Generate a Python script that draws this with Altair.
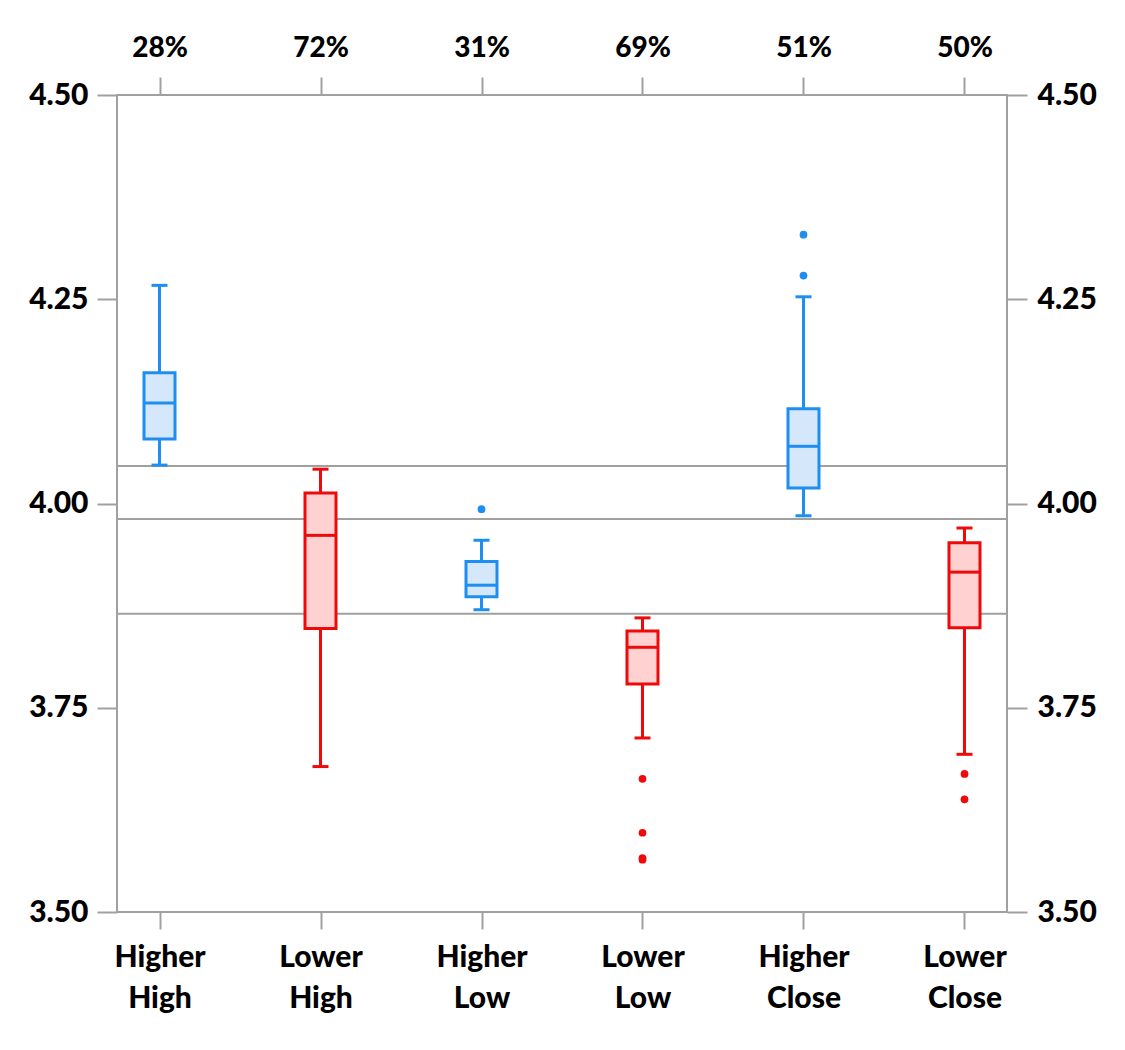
import altair as alt
import pandas as pd

categories = ["Higher High", "Lower High", "Higher Low", "Lower Low", "Higher Close", "Lower Close"]
pcts = ["28%", "72%", "31%", "69%", "51%", "50%"]
whisk_lo = [4.047, 3.678, 3.870, 3.713, 3.985, 3.693]
q1 = [4.079, 3.847, 3.886, 3.779, 4.019, 3.848]
median = [4.123, 3.961, 3.900, 3.824, 4.070, 3.916]
q3 = [4.160, 4.013, 3.929, 3.844, 4.116, 3.952]
whisk_hi = [4.267, 4.042, 3.955, 3.860, 4.253, 3.970]

outlier_cats = ["Higher Low", "Lower Low", "Lower Low", "Lower Low", "Lower Low",
                "Higher Close", "Higher Close", "Lower Close", "Lower Close"]
outlier_vals = [3.993, 3.663, 3.597, 3.566, 3.564, 4.329, 4.279, 3.669, 3.638]

ref_lines = [4.046, 3.981, 3.865]

sides = ["Higher", "Lower"]
dark = ["#1F8EF1", "#EE0A0A"]
light = ["#D4E7FB", "#FFD1D1"]
gray = "#A0A0A0"
FONT = "Lato"
WEIGHT = 900

box = pd.DataFrame({
    "cat": categories, "side": [c.split()[0] for c in categories],
    "lo": whisk_lo, "q1": q1, "med": median, "q3": q3, "hi": whisk_hi,
})
outl = pd.DataFrame({"cat": outlier_cats, "side": [c.split()[0] for c in outlier_cats],
                     "value": outlier_vals})
refs = pd.DataFrame({"y": ref_lines})

xscale = alt.Scale(type="point", domain=categories, padding=0.264)
yscale = alt.Scale(domain=[3.5, 4.5], nice=False, zero=False)
cscale = alt.Scale(domain=sides, range=dark)
fscale = alt.Scale(domain=sides, range=light)
sscale = alt.Scale(domain=sides, range=dark)

pct_expr = ""
for c, p in zip(categories, pcts):
    pct_expr += f"datum.value == '{c}' ? '{p}' : "
pct_expr += "''"

tick_vals = [3.5, 3.75, 4.0, 4.25, 4.5]

bottom_axis = alt.Axis(orient="bottom", title=None, domain=False, ticks=True, tickSize=17,
                       tickWidth=2, tickColor=gray, labelExpr="split(datum.value, ' ')",
                       labelFont=FONT, labelFontWeight=WEIGHT, labelFontSize=30,
                       labelColor="black", labelLineHeight=41, labelPadding=13, labelAngle=0)
top_axis = alt.Axis(orient="top", title=None, domain=False, ticks=True, tickSize=18,
                    tickWidth=2, tickColor=gray, labelExpr=pct_expr,
                    labelFont=FONT, labelFontWeight=WEIGHT, labelFontSize=28,
                    labelColor="black", labelPadding=15, labelAngle=0)
left_axis = alt.Axis(orient="left", title=None, domain=False, grid=False, values=tick_vals,
                     format=".2f", tickSize=20, tickWidth=2, tickColor=gray,
                     labelFont=FONT, labelFontWeight=WEIGHT, labelFontSize=30,
                     labelColor="black", labelPadding=9)
right_axis = alt.Axis(orient="right", title=None, domain=False, grid=False, values=tick_vals,
                      format=".2f", tickSize=20, tickWidth=2, tickColor=gray,
                      labelFont=FONT, labelFontWeight=WEIGHT, labelFontSize=30,
                      labelColor="black", labelPadding=10)

SW = 3

ref_layer = alt.Chart(refs).mark_rule(color=gray, strokeWidth=2).encode(
    y=alt.Y("y:Q", scale=yscale, axis=None)
)

whisk = alt.Chart(box).mark_rule(strokeWidth=SW).encode(
    x=alt.X("cat:N", scale=xscale, axis=top_axis, sort=categories),
    y=alt.Y("lo:Q", scale=yscale, axis=right_axis),
    y2="hi:Q",
    color=alt.Color("side:N", scale=cscale, legend=None),
)

cap_lo = alt.Chart(box).mark_tick(size=16, thickness=SW, opacity=1).encode(
    x=alt.X("cat:N", scale=xscale, axis=None, sort=categories),
    y=alt.Y("lo:Q", scale=yscale, axis=None),
    color=alt.Color("side:N", scale=cscale, legend=None),
)
cap_hi = alt.Chart(box).mark_tick(size=16, thickness=SW, opacity=1).encode(
    x=alt.X("cat:N", scale=xscale, axis=None, sort=categories),
    y=alt.Y("hi:Q", scale=yscale, axis=None),
    color=alt.Color("side:N", scale=cscale, legend=None),
)

bars = alt.Chart(box).mark_bar(size=31, strokeWidth=SW).encode(
    x=alt.X("cat:N", scale=xscale, axis=bottom_axis, sort=categories),
    y=alt.Y("q1:Q", scale=yscale, axis=left_axis),
    y2="q3:Q",
    fill=alt.Fill("side:N", scale=fscale, legend=None),
    stroke=alt.Stroke("side:N", scale=sscale, legend=None),
)

med = alt.Chart(box).mark_tick(size=31, thickness=SW, opacity=1).encode(
    x=alt.X("cat:N", scale=xscale, axis=None, sort=categories),
    y=alt.Y("med:Q", scale=yscale, axis=None),
    color=alt.Color("side:N", scale=cscale, legend=None),
)

pts = alt.Chart(outl).mark_circle(size=60, opacity=1).encode(
    x=alt.X("cat:N", scale=xscale, axis=None, sort=categories),
    y=alt.Y("value:Q", scale=yscale, axis=None),
    color=alt.Color("side:N", scale=cscale, legend=None),
)

chart = alt.layer(ref_layer, whisk, cap_lo, cap_hi, bars, med, pts).resolve_axis(
    x="independent", y="independent"
).properties(
    width=890, height=817,
    autosize=alt.AutoSizeParams(type="none"),
    padding={"left": 109, "top": 87, "right": 110, "bottom": 130},
).configure_view(stroke=gray, strokeWidth=2)

chart.save("out.html", embed_options={"renderer": "svg", "actions": False})
